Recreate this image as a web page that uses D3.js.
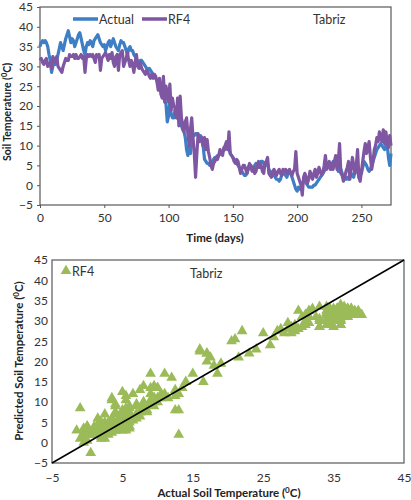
<!DOCTYPE html>
<html><head><meta charset="utf-8">
<script src="https://cdn.jsdelivr.net/npm/d3@7"></script>
<style>body{margin:0;background:#fff}svg{display:block}</style>
</head><body><svg id="c" width="411" height="500"></svg>
<script>
const days = d3.range(0, 274);
const actual = [
35,36,36.5,36,36.5,36,35,33,31.5,28.5,
30,31,30.5,31.5,33,34.5,36,35,34,35.5,
37,38,39,37.5,36,37,36.5,35,36,37,
38,38.5,37,35.5,34,33,35,36,35.5,36.5,
36,35,36.5,37,37.5,38,37,36,35.5,35,
35.5,34,35,36,36.5,35,36,37,36,35,
34.5,34,35.5,36.5,36,36,35,34,33,34.5,
35,34,34,33,32.5,32,31,31,31.5,31.5,
31,30.5,30,29.5,29,29.5,29,28.5,28,27.5,
27,26.5,26,25,24,23,22,21.5,20.5,16,
17.5,21,18,17,17,19,18.5,17,16.5,16,
15,14,13.5,12,9,7.5,10,8,11,13,
12.5,13,13,12.5,11.5,12.5,11,9.5,6.5,6,
5.5,5.5,5,5.5,6,6.5,7,7,7.5,7.5,
8,8.5,8.5,9,9,9.5,9.5,9,8,7.5,
7,6.5,6,5.5,5,4.5,4,3.5,3,2.5,
2.5,3,4,4.5,5,4.5,4,5,5.5,5,
4.5,5,6,6,5.5,5,6,5.5,4,3.5,
3,2.5,2.5,2,1.5,1.5,1,1.5,2.5,3,
3,2.5,2,3,3.5,3,2,1,0,-1,
-1.5,-0.5,-1,-0.5,0.5,1,1,0.5,0,-0.5,
-0.5,-0.5,-0.5,0,0,0.5,1,1.5,2,2.5,
3,3.5,4,4.5,5,4.5,4,5,6,6,
6,5,3.5,3.5,4,3,2,1.5,1.5,2,
1.5,2,3,2.5,2,3.5,5,4,2,2.5,
3,4.5,6,5.5,5,4,3.5,4,5,6,
7,8,9,9.5,10,10.5,10,9.5,9,10,
10.5,7,5,8];
const rf4 = [
31.5,32,31,30.5,31.5,32,30,30.5,31,29.5,
32.5,31.5,31,32.5,30,29.5,29,28.5,30,31,
32,31.5,31.5,33,32.5,32.5,33,32,33,32,
32,32.5,33,32,32.5,28.5,32,33,32.5,33,
32.5,33,32,31,33,32.5,33,29,32,32.5,
33,33.5,32.5,31.5,33,32,33.5,31,30,32.5,
33,29,33,33.5,34,30,31,32,33.5,31.5,
30,31.5,30.5,28.5,31,33,30,29.5,31,29.5,
29,28.5,28,29,28.5,27.5,27,28,27,28,
27.5,26,24,27,23,22,27.5,21,25,23,
21,25.5,19,22,20,19.5,17,22,15,22.5,
17,15,13.5,16,17,13,10,14,17,12,
8,2,8,13,11,11.5,12,10,12,9,
11.5,8.5,7,5,4,5.5,6,7,6.5,7.5,
9,8,7.5,9.5,10,11,9,13.5,8,7.5,
7,6,5.5,6.5,6,4.5,3,4,5,5,
4,3,4.5,5.5,4.5,3.5,4.5,3,3.5,5,
6,4.5,5,3.5,3,5.5,6,7,3,2.5,
2,3.5,4,3,2.5,3.5,4,3,2.5,4,
3.5,4,3,3.5,4,3,2.5,3.5,4,8.5,
3,2,1,0,-2.5,2,3,2,0.5,1.5,
3.5,2.5,1.5,3,4,2,3,4.5,3.5,2.5,
3,5,7.5,4,5,6,4,5.5,4,6,
7.5,4,6,10.5,3,2.5,1,2,3.5,4.5,
6,1.5,4,7,5,3,5,9,2,1,
3.5,6,8.5,10.5,8,9.5,11,7,4,6,
9,10,12,11,13.5,12,11,14,10.5,13.5,
11,9.5,12.5,10];
const tempTicks = [-5,0,5,10,15,20,25,30,35,40,45];
const dayTicks = [0,50,100,150,200,250];
const scatterTicks = [-5,5,15,25,35,45];
const seriesNames = ["Actual","RF4"];
const site = "Tabriz";

const svg = d3.select("#c");
svg.append("rect").attr("width",411).attr("height",500).attr("fill","#fff");
const FONT = "Lato, 'Open Sans', sans-serif";
const AX = "#595959";
const BLUE = "#3d7ec4", PURPLE = "#7e56a2", GREEN = "#9bbb59";

function titleWithSup(g, pre, post, size){
  g.append("tspan").text(pre);
  g.append("tspan").attr("font-size", size*0.7).attr("dy", -size*0.35).text("0");
  g.append("tspan").attr("dy", size*0.35).text(post);
}
function styleAxis(g){
  g.select(".domain").remove();
  g.selectAll(".tick line").attr("stroke", AX);
  g.selectAll(".tick text").attr("fill","#333").attr("font-family",FONT).attr("font-size",12);
}

// ---------- Top chart ----------
const x1 = d3.scaleLinear().domain([0,273]).range([40,391]);
const y1 = d3.scaleLinear().domain([-5,45]).range([205,7]);
const topG = svg.append("g");
topG.append("g").attr("transform","translate(40,0)")
  .call(d3.axisLeft(y1).tickValues(tempTicks).tickSize(3).tickPadding(4)).call(styleAxis);
topG.append("g").attr("transform","translate(0,205)")
  .call(d3.axisBottom(x1).tickValues(dayTicks).tickSize(3).tickPadding(5)).call(styleAxis);
topG.append("rect").attr("x",40).attr("y",7).attr("width",351).attr("height",198)
  .attr("fill","none").attr("stroke",AX).attr("stroke-width",1.2);
const line1 = d3.line().x((d,i)=>x1(days[i])).y(d=>y1(d));
topG.append("path").datum(actual).attr("d",line1).attr("fill","none")
  .attr("stroke",BLUE).attr("stroke-width",3.2).attr("stroke-linejoin","round");
topG.append("path").datum(rf4).attr("d",line1).attr("fill","none")
  .attr("stroke",PURPLE).attr("stroke-width",3.2).attr("stroke-linejoin","round");
// legend
const lg = topG.append("g");
[[73,BLUE,seriesNames[0]],[142,PURPLE,seriesNames[1]]].forEach(([lx,c,t])=>{
  lg.append("line").attr("x1",lx).attr("x2",lx+25).attr("y1",19).attr("y2",19)
    .attr("stroke",c).attr("stroke-width",3.5);
  lg.append("text").attr("x",lx+26).attr("y",23.5).attr("font-family",FONT)
    .attr("font-size",12.5).attr("fill","#333").text(t);
});
topG.append("text").attr("x",313).attr("y",23.5).attr("font-family",FONT)
  .attr("font-size",12.5).attr("fill","#333").text(site);
topG.append("text").attr("x",215).attr("y",242).attr("text-anchor","middle")
  .attr("font-family",FONT).attr("font-weight","bold").attr("font-size",11.5).attr("fill","#222")
  .text("Time  (days)");
const yt1 = topG.append("text").attr("transform","translate(11,112) rotate(-90)")
  .attr("text-anchor","middle").attr("font-family",FONT).attr("font-weight","bold")
  .attr("font-size",10.5).attr("fill","#222");
titleWithSup(yt1,"Soil Temperature (","C)",10.5);

// ---------- Bottom chart ----------
const x2 = d3.scaleLinear().domain([-5,45]).range([52,404]);
const y2 = d3.scaleLinear().domain([-5,45]).range([463,260]);
const botG = svg.append("g");
botG.append("g").attr("transform","translate(52,0)")
  .call(d3.axisLeft(y2).tickValues(tempTicks).tickSize(0).tickPadding(4)).call(styleAxis);
botG.append("g").attr("transform","translate(0,463)")
  .call(d3.axisBottom(x2).tickValues(scatterTicks).tickSize(0).tickPadding(10)).call(styleAxis);
botG.append("rect").attr("x",52).attr("y",260).attr("width",352).attr("height",203)
  .attr("fill","none").attr("stroke",AX).attr("stroke-width",1.2);
const tri = d3.symbol().type(d3.symbolTriangle).size(50);
botG.append("g").selectAll("path").data(actual).join("path")
  .attr("d",tri).attr("fill",GREEN)
  .attr("transform",(d,i)=>`translate(${x2(d)},${y2(rf4[i])})`);
botG.append("line").attr("x1",x2(-5)).attr("y1",y2(-5)).attr("x2",x2(45)).attr("y2",y2(45))
  .attr("stroke","#000").attr("stroke-width",1.5);
botG.append("path").attr("d",tri).attr("fill",GREEN).attr("transform","translate(66,271)");
botG.append("text").attr("x",72).attr("y",276).attr("font-family",FONT)
  .attr("font-size",12.5).attr("fill","#333").text(seriesNames[1]);
botG.append("text").attr("x",190).attr("y",278).attr("font-family",FONT)
  .attr("font-size",12.5).attr("fill","#333").text(site);
const xt2 = botG.append("text").attr("x",229).attr("y",497).attr("text-anchor","middle")
  .attr("font-family",FONT).attr("font-weight","bold").attr("font-size",11.5).attr("fill","#222");
titleWithSup(xt2,"Actual Soil Temperature (","C)",11.5);
const yt2 = botG.append("text").attr("transform","translate(23,361) rotate(-90)")
  .attr("text-anchor","middle").attr("font-family",FONT).attr("font-weight","bold")
  .attr("font-size",11.5).attr("fill","#222");
titleWithSup(yt2,"Predicted Soil Temperature (","C)",11.5);
</script></body></html>
